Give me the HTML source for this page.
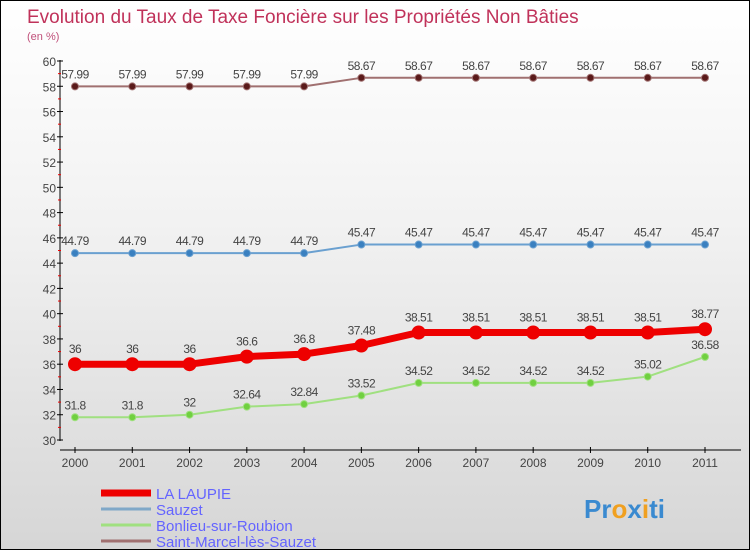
<!DOCTYPE html>
<html><head><meta charset="utf-8"><style>
body{margin:0}
#c{width:748px;height:548px;border:1px solid #000;background:linear-gradient(#ffffff,#f2f2f2 40%,#d6d6d6);position:relative;font-family:"Liberation Sans",sans-serif}
</style></head><body>
<div id="c">
<svg id="s" width="748" height="548"></svg>
</div>
<script>
const years=[2000,2001,2002,2003,2004,2005,2006,2007,2008,2009,2010,2011];
const laLaupie=[36,36,36,36.6,36.8,37.48,38.51,38.51,38.51,38.51,38.51,38.77];
const sauzet=[44.79,44.79,44.79,44.79,44.79,45.47,45.47,45.47,45.47,45.47,45.47,45.47];
const bonlieu=[31.8,31.8,32,32.64,32.84,33.52,34.52,34.52,34.52,34.52,35.02,36.58];
const stMarcel=[57.99,57.99,57.99,57.99,57.99,58.67,58.67,58.67,58.67,58.67,58.67,58.67];
const yTicks=[30,32,34,36,38,40,42,44,46,48,50,52,54,56,58,60];
const seriesNames=["LA LAUPIE","Sauzet","Bonlieu-sur-Roubion","Saint-Marcel-lès-Sauzet"];
const NS="http://www.w3.org/2000/svg",s=document.getElementById('s');
const X=i=>74+i*(630/11), Y=v=>439-(v-30)*(379/30);
function el(t,a,p){const e=document.createElementNS(NS,t);for(const k in a)e.setAttribute(k,a[k]);(p||s).appendChild(e);return e;}
function tx(x,y,str,a){const e=el('text',Object.assign({x:x,y:y},a));e.textContent=str;return e;}
let t=tx(26,22,"Evolution du Taux de Taxe Foncière sur les Propriétés Non Bâties",{fill:"#c0325a","font-size":19});

t=tx(26,39,"(en %)",{fill:"#c0507a","font-size":11});

let a=el('line',{x1:59,y1:59,x2:59,y2:440,stroke:"#000"});
a=el('line',{x1:59,y1:449,x2:740,y2:449,stroke:"#000"});
yTicks.forEach((v,i)=>{const l=el('line',{x1:56,x2:62,y1:Y(v),y2:Y(v),stroke:"#000"});

if(i<yTicks.length-1){const m=el('line',{x1:57,x2:60,y1:Y(v+1),y2:Y(v+1),stroke:"#e00"});}
const e=tx(55,Y(v)+5,String(v),{"text-anchor":"end","font-size":12,fill:"#444"});
});
years.forEach((y,i)=>{const l=el('line',{x1:X(i),x2:X(i),y1:446,y2:452,stroke:"#000"});

const e=tx(X(i),466,String(y),{"text-anchor":"middle","font-size":12,fill:"#444"});
});
function series(d,col,dot,w,r,name){
const p=el('polyline',{points:d.map((v,i)=>X(i)+","+Y(v)).join(" "),fill:"none",stroke:col,"stroke-width":w,"stroke-linejoin":"round"});

d.forEach((v,i)=>{const c=el('circle',{cx:X(i),cy:Y(v),r:r,fill:dot,stroke:col,"stroke-width":r>4?2:1});

const e=tx(X(i),Y(v)-(r>4?11:8),String(v),{"text-anchor":"middle","font-size":12,fill:"#444","letter-spacing":"-0.5"});
});}
series(stMarcel,"#a07070","#5a1a1a",2,3.5,"saint-marcel");
series(sauzet,"#6aa0d0","#3a80c0",2,3.5,"sauzet");
series(bonlieu,"#a0e080","#70d040",2,3.5,"bonlieu");
series(laLaupie,"#ee0000","#ee0000",7,6,"la-laupie");
const lc=[["#ee0000",7],["#80a8c8",3],["#a0e080",3],["#a07070",3]];
seriesNames.forEach((n,i)=>{const y=492+i*16;
const l=el('line',{x1:100,x2:150,y1:y,y2:y,stroke:lc[i][0],"stroke-width":lc[i][1]});

const e=tx(155,y+6,n,{"font-size":15,fill:"#6464ff"});
});
const lg=tx(583,517,"",{"font-size":26,"font-weight":"bold"});

[["Pr","#3a8ad0"],["o","#f0a020"],["x","#3a8ad0"],["i","#f0a020"],["ti","#3a8ad0"]].forEach(p=>{const ts=el('tspan',{fill:p[1]},lg);ts.textContent=p[0];});
</script>
</body></html>
